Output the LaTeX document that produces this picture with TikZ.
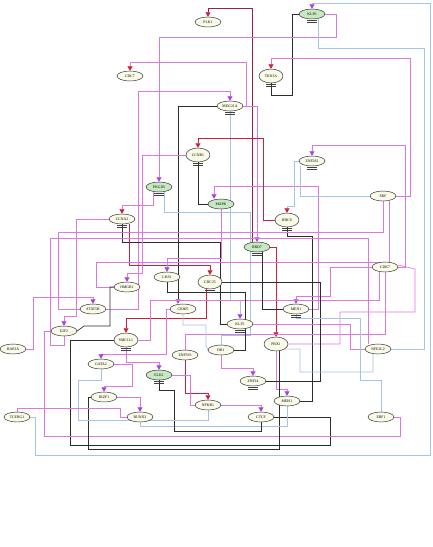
\documentclass[tikz,border=0pt]{standalone}
\usepackage{fontspec}
\setmainfont{Liberation Serif}
\usetikzlibrary{shapes.geometric,arrows.meta}
\definecolor{pkc}{RGB}{222,120,222}
\definecolor{lbc}{RGB}{165,195,228}
\definecolor{bkc}{RGB}{45,45,45}
\definecolor{rdc}{RGB}{205,30,60}
\definecolor{rdkc}{RGB}{150,35,70}
\definecolor{puc}{RGB}{165,65,230}
\definecolor{nfill}{RGB}{250,250,232}
\definecolor{gfill}{RGB}{200,232,195}
\pgfdeclarelayer{bg}
\pgfsetlayers{bg,main}
\newcommand\genebar[1]{\draw[black!75,line width=0.3pt] ([xshift=-5pt,yshift=-1.3pt]#1.south) -- ++(10pt,0pt) ([xshift=-5pt,yshift=-2.8pt]#1.south) -- ++(10pt,0pt);}
\begin{document}
\begin{tikzpicture}[x=1pt,y=-1pt,
  gn/.style={ellipse,draw=black!85,line width=0.45pt,fill=nfill,minimum width=26pt,minimum height=10pt,inner sep=0pt,font=\fontsize{3.8}{4}\selectfont},
  tall/.style={minimum width=24pt,minimum height=14pt},
  grn/.style={fill=gfill},
  pk/.style={draw=pkc,line width=0.65pt},
  lb/.style={draw=lbc,line width=0.65pt},
  bk/.style={draw=bkc,line width=0.65pt},
  rd/.style={draw=rdc,line width=0.65pt},
  rdk/.style={draw=rdkc,line width=0.65pt},
  ra/.style={-{Triangle[length=4.5pt,width=5pt,color=rdc]}},
  pa/.style={-{Triangle[length=4.5pt,width=5pt,color=puc]}}]
\useasboundingbox (0,0) rectangle (433,547);

% ---------------- nodes ----------------
\node[gn] (PLK1) at (208,22) {PLK1};
\node[gn,grn] (KLF6) at (312,14) {KLF6};
\node[gn] (CDC7) at (130,76) {CDC7};
\node[gn,tall] (TKN1A) at (271,76) {TKN1A};
\node[gn] (MDC21A) at (230,106) {MDC21A};
\node[gn,tall] (CCNB1) at (198,155) {CCNB1};
\node[gn] (ZNF282) at (312,161) {ZNF282};
\node[gn,grn] (PKG1B) at (159,187) {PKG1B};
\node[gn,grn] (MAPK) at (221,204) {MAPK};
\node[gn] (CCNA2) at (122,219) {CCNA2};
\node[gn,tall] (HHCS) at (287,220) {HHCS};
\node[gn] (SRF) at (383,196) {SRF};
\node[gn,grn] (BRD7) at (257,247) {BRD7};
\node[gn,tall] (CDC25) at (210,282) {CDC25};
\node[gn] (LKS1) at (167,277) {LKS1};
\node[gn] (HMGB1) at (127,287) {HMGB1};
\node[gn] (STAT5B) at (93,309) {STAT5B};
\node[gn] (CK805) at (183,309) {CK805};
\node[gn] (MEN1) at (296,309) {MEN1};
\node[gn] (KLF5) at (240,324) {KLF5};
\node[gn] (E2F2) at (64,331) {E2F2};
\node[gn] (CDK7) at (385,267) {CDK7};
\node[gn] (HAP2A) at (13,349) {HAP2A};
\node[gn,tall] (SMC1L1) at (126,340) {SMC1L1};
\node[gn] (ZNF593) at (185,355) {ZNF593};
\node[gn] (DR1) at (221,350) {DR1};
\node[gn,tall] (PBX1) at (276,344) {PBX1};
\node[gn] (NFE2L2) at (378,349) {NFE2L2};
\node[gn] (GATA2) at (101,364) {GATA2};
\node[gn,grn] (ELK1) at (159,375) {ELK1};
\node[gn] (ZNF24) at (253,381) {ZNF24};
\node[gn] (IKZF1) at (104,397) {IKZF1};
\node[gn] (NFKB1) at (208,405) {NFKB1};
\node[gn] (MEIS1) at (287,401) {MEIS1};
\node[gn] (CTCF) at (261,417) {CTCF};
\node[gn] (TCERG1) at (17,417) {TCERG1};
\node[gn] (RUNX3) at (140,417) {RUNX3};
\node[gn] (EBF1) at (381,417) {EBF1};

\genebar{KLF6}\genebar{TKN1A}\genebar{MDC21A}\genebar{CCNB1}\genebar{ZNF282}
\genebar{PKG1B}\genebar{CCNA2}\genebar{HHCS}\genebar{BRD7}\genebar{CDC25}
\genebar{KLF5}\genebar{MEN1}\genebar{SMC1L1}\genebar{ZNF24}\genebar{ELK1}

% ---------------- edges ----------------
\begin{pgfonlayer}{bg}
\fill[white] (0,0) rectangle (433,547);
% upper region
\draw[rdk,ra] ([xshift=-5pt]BRD7.north) -- (252,8) -- (208,8) -- (PLK1.north);
\draw[lb,pa] (TCERG1.east) -- (35,417) -- (35,455) -- (430,455) -- (430,3) -- (312,3) -- (KLF6.north);
\draw[bk] (TKN1A.south) -- (271,95) -- (292,95) -- (292,14) -- (KLF6.west);
\draw[pk,pa] (KLF6.east) -- (336,14) -- (336,37) -- (159,37) -- (PKG1B.north);
\draw[lb] ([xshift=6pt]KLF6.south) -- (318,48) -- (424,48) -- (424,349) -- (NFE2L2.east);
\draw[pk,ra] (SRF.east) -- (410,196) -- (410,58) -- (271,58) -- (TKN1A.north);
\draw[pk,ra] (MDC21A.east) -- (246,106) -- (246,62) -- (130,62) -- (CDC7.north);
\draw[pk,pa] (MDC21A.east) -- (257,106) -- (BRD7.north);
\draw[pk,pa] (STAT5B.east) -- (138,309) -- (138,91) -- (230,91) -- (MDC21A.north);
\draw[bk,pa] (MDC21A.west) -| ([xshift=-5pt]CK805.north);
\draw[lb,pa] (MDC21A.south) -- (230,300) -- (240,300) -- (KLF5.north);
\draw[bk] (CCNB1.south) |- (MAPK.west);
\draw[pk,pa] (MEN1.east) -- (318,309) -- (318,186) -- (214,186) -- ([xshift=-7pt]MAPK.north);
\draw[pk,pa] (CDK7.east) -- (405,267) -- (405,145) -- (312,145) -- (ZNF282.north);
\draw[lb] ([xshift=-12pt]ZNF282.south) |- (SRF.west);
\draw[lb,ra] (ZNF282.west) -- (294,161) -- (294,206) -- (287,206) -- (HHCS.north);
\draw[rd,ra] (HHCS.west) -- (263,220) -- (263,138) -- (198,138) -- (CCNB1.north);
\draw[pk,ra] ([xshift=-6pt]PKG1B.south) -- (153,205) -- (122,205) -- (CCNA2.north);
\draw[lb] ([xshift=5pt]PKG1B.south) -- (164,212) -- (250,212) -- (250,335) -- (221,335) -- (DR1.north);
\draw[bk] (HHCS.south) -- (287,236) -- (312,236) -- (312,401) -- (MEIS1.east);
\draw[bk] (CCNA2.south) -- (122,242) -- (220,242) |- (KLF5.west);
\draw[rd,ra] ([xshift=7pt]CCNA2.south) -- (129,265) -- (210,265) -- (CDC25.north);
\draw[pk,pa] (MAPK.south) -- (221,258) -- (167,258) -- (LKS1.north);
\draw[pk,pa] (CCNB1.west) -- (142,155) -- (142,273) -- (127,273) -- (HMGB1.north);
\draw[pk,pa] (HAP2A.east) -- (33,349) -- (33,297) -- (93,297) -- (STAT5B.north);
\draw[pk,pa] (CDK7.west) -- (330,267) -- (330,296) -- (296,296) -- (MEN1.north);
\draw[pk,pa] (CCNA2.west) -- (76,219) -- (76,316) -- (64,316) -- (E2F2.north);
\draw[rd,ra] ([xshift=-4pt]CDC25.south) -- (206,318) -- (126,318) -- (SMC1L1.north);
\draw[rd,ra] (BRD7.east) -| (PBX1.north);
\draw[pk,pa] (CK805.west) -- (166,309) -- (166,354) -- (101,354) -- (GATA2.north);
\draw[pk,pa] (SMC1L1.south) -- (126,362) -- (159,362) -- (ELK1.north);
\draw[pk,pa] (DR1.south) -- (221,368) -- (253,368) -- (ZNF24.north);
\draw[pk,pa] (GATA2.east) -- (132,364) -- (132,386) -- (104,386) -- (IKZF1.north);
\draw[rd,ra] (ZNF593.south) -- (185,393) -- (208,393) -- (NFKB1.north);
\draw[pk,pa] (PBX1.south) -- (276,389) -- (287,389) -- (MEIS1.north);
\draw[pk,pa] (NFKB1.east) -| (CTCF.north);
\draw[pk,pa] (IKZF1.east) -| (RUNX3.north);
% lower region long runs
\draw[bk] (SMC1L1.west) -- (70,340) -- (70,445) -- (330,445) -- (330,417) -- (CTCF.east);
\draw[pk] (EBF1.east) -- (400,417) -- (400,436) -- (44,436) -- (44,331) -- (E2F2.west);
\draw[bk] ([xshift=3pt]PBX1.south) -- (279,449) -- (88,449) -- (88,397) -- (IKZF1.west);
\draw[lb] (RUNX3.south) -- (140,426) -- (287,426) -- (MEIS1.south);
\draw[pk] (NFE2L2.west) -- (350,349) -- (350,324) -- (KLF5.east);
\draw[pk] (SRF.south) -- (383,232) -- (58,232) -- (58,309) -- (STAT5B.west);
\draw[pk] ([xshift=6pt]SRF.south) -- (389,262) -- (96,262) -- (96,287) -- (HMGB1.west);
\draw[pk] ([xshift=-10pt]NFE2L2.north) -- (368,238) -- (50,238) -- (50,345) -- (64,345) -- (E2F2.south);
\draw[pk] ([xshift=-6pt]CDK7.south) -- (379,300) -- (150,300) -- (150,340) -- (SMC1L1.east);
\draw[pk] (CDK7.south) -- (385,334) -- (185,334) -- (ZNF593.north);
\draw[pk] ([yshift=2pt]CDK7.east) -- (415,269) -- (415,312) -- (340,312) -- (340,344) -- (PBX1.east);
\draw[bk] (CDC25.east) -- (320,282) -- (320,381) -- (ZNF24.east);
\draw[bk] (LKS1.south) -- (167,292) -- (245,292) -- (245,350) -- (DR1.east);
\draw[bk] (HMGB1.west) -- (110,287) -- (110,326) -- (84,326) -- (E2F2.east);
\draw[bk] (MEN1.west) -- (262,309) -- ([xshift=5pt]BRD7.south);
\draw[lb] (EBF1.north) -- (381,380) -- (360,380) -- (360,318) -- (296,318) -- (MEN1.south);
\draw[lb] ([xshift=-5pt]NFE2L2.south) -- (373,372) -- (300,372) -- (300,349) -- (PBX1.south east);
\draw[pk] (ELK1.east) -- (190,375) -- (190,405) -- (NFKB1.west);
\draw[bk] (ELK1.south) -- (159,390) -- (174,390) -- (174,431) -- (261,431) -- (CTCF.south);
\draw[lb] (GATA2.south) -- (101,380) -- (78,380) -- (78,420) -- (208,420) -- (NFKB1.south);
\draw[pk] (TCERG1.north) -- (17,408) -- (120,408) |- (RUNX3.west);
\draw[lb] (CK805.south) -- (183,325) -- (206,325) -- (206,345) -- (DR1.west);
\end{pgfonlayer}
\end{tikzpicture}
\end{document}
